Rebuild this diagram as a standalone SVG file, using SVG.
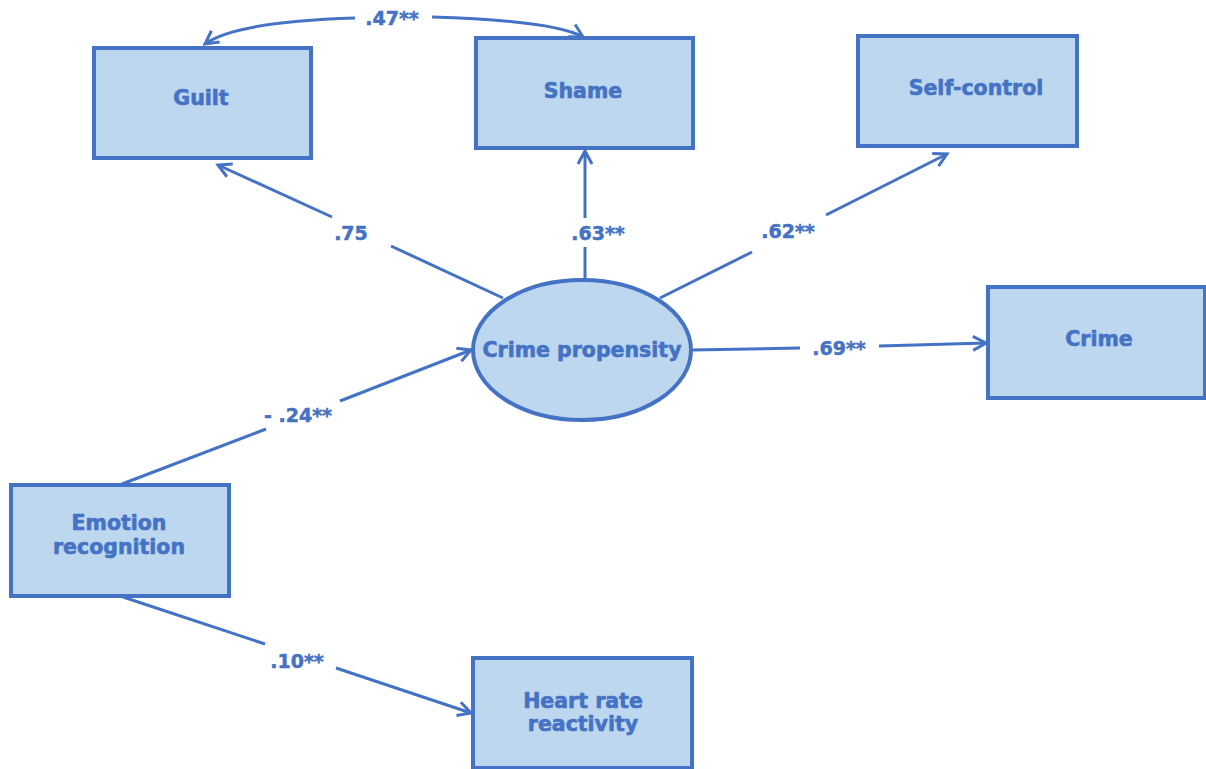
<svg xmlns="http://www.w3.org/2000/svg" width="1206" height="769" viewBox="0 0 1206 769">
<style>
.box{fill:#BDD7EE;stroke:#4472C4;stroke-width:4}
.nl{font-family:"DejaVu Sans",Verdana,sans-serif;font-weight:bold;font-size:20.5px;fill:#4472C4;stroke:#4472C4;stroke-width:0.6;text-anchor:middle}
.el{font-family:"DejaVu Sans",Verdana,sans-serif;font-weight:bold;font-size:19px;fill:#4472C4;stroke:#4472C4;stroke-width:0.5;text-anchor:middle}
.c{fill:none;stroke:#4472C4;stroke-width:3}
</style>
<defs>
<marker id="ah" markerUnits="userSpaceOnUse" markerWidth="18" markerHeight="18" refX="14" refY="8" orient="auto" viewBox="0 0 18 16">
<path d="M1,1 L14,8 L1,15" fill="none" stroke="#4472C4" stroke-width="3" stroke-linejoin="miter"/>
</marker>
</defs>
<rect width="1206" height="769" fill="#ffffff"/>
<g id="connectors">
<path class="c" d="M355 18 C290 20 230 26 205 44" marker-end="url(#ah)"/>
<path class="c" d="M432 17 C500 19 560 24 583 37" marker-end="url(#ah)"/>
<line class="c" x1="503" y1="298" x2="391" y2="246"/>
<line class="c" x1="332" y1="217" x2="218" y2="165" marker-end="url(#ah)"/>
<line class="c" x1="585" y1="279" x2="585" y2="247"/>
<line class="c" x1="585" y1="218" x2="585" y2="151" marker-end="url(#ah)"/>
<line class="c" x1="660" y1="298" x2="752" y2="252"/>
<line class="c" x1="826" y1="215" x2="947" y2="154" marker-end="url(#ah)"/>
<line class="c" x1="692" y1="350" x2="800" y2="348"/>
<line class="c" x1="879" y1="346" x2="986" y2="343" marker-end="url(#ah)"/>
<line class="c" x1="122" y1="484" x2="266" y2="429"/>
<line class="c" x1="340" y1="401" x2="471" y2="350" marker-end="url(#ah)"/>
<line class="c" x1="123" y1="597" x2="265" y2="644"/>
<line class="c" x1="336" y1="668" x2="471" y2="713" marker-end="url(#ah)"/>
<text class="el" x="392" y="25">.47**</text>
<text class="el" x="351" y="240">.75</text>
<text class="el" x="598" y="240">.63**</text>
<text class="el" x="788" y="238">.62**</text>
<text class="el" x="839" y="355">.69**</text>
<text class="el" x="298" y="422">- .24**</text>
<text class="el" x="297" y="668">.10**</text>
</g>
<g id="guilt"><rect class="box" x="94" y="48" width="217" height="110"/><text class="nl" x="201" y="105">Guilt</text></g>
<g id="shame"><rect class="box" x="476" y="38" width="217" height="110"/><text class="nl" x="583" y="98">Shame</text></g>
<g id="self-control"><rect class="box" x="858" y="36" width="219" height="110"/><text class="nl" x="976" y="95">Self-control</text></g>
<g id="crime"><rect class="box" x="988" y="287" width="217" height="111"/><text class="nl" x="1099" y="346">Crime</text></g>
<g id="crime-propensity"><ellipse class="box" cx="582" cy="350" rx="109" ry="70"/><text class="nl" x="582" y="357">Crime propensity</text></g>
<g id="emotion-recognition"><rect class="box" x="11" y="485" width="218" height="111"/><text class="nl" x="119" y="530">Emotion</text><text class="nl" x="119" y="554">recognition</text></g>
<g id="heart-rate"><rect class="box" x="473" y="658" width="219" height="110"/><text class="nl" x="583" y="708">Heart rate</text><text class="nl" x="583" y="731">reactivity</text></g>
</svg>
